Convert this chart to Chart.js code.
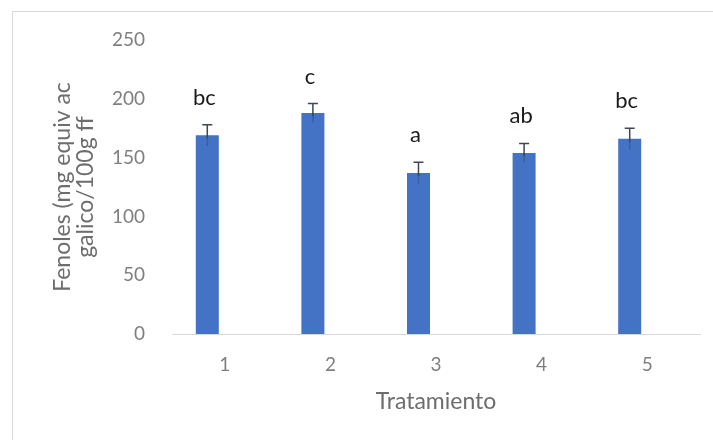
<!DOCTYPE html>
<html>
<head>
<meta charset="utf-8">
<script src="https://cdn.jsdelivr.net/npm/chart.js@4"></script>
<style>
  body { margin: 0; background: #fff; }
  #wrap { position: relative; width: 713px; height: 440px; overflow: hidden; }
  #frame { position: absolute; left: 12px; top: 11px; width: 720px; height: 450px; border: 1px solid #d9d9d9; }
  canvas { position: absolute; left: 0; top: 0; }
</style>
</head>
<body>
<div id="wrap">
  <div id="frame"></div>
  <canvas id="chart" width="713" height="440"></canvas>
</div>
<script>
// data
const tratamientos = ['1', '2', '3', '4', '5'];
const fenoles = [169, 188, 137, 154, 166];
const errores = [9, 8, 9, 8, 9];
const letras = ['bc', 'c', 'a', 'ab', 'bc'];
const yTicks = [0, 50, 100, 150, 200, 250];

const fontFamily = 'Lato, "Open Sans", sans-serif';
const gray = '#7f7f7f';

// error bars + significance letters drawn on top of the bars
const errorBarPlugin = {
    id: 'errorBars',
    afterDatasetsDraw(chart) {
        const ctx = chart.ctx;
        const yScale = chart.scales.y;
        const meta = chart.getDatasetMeta(0);
        ctx.save();
        meta.data.forEach((bar, i) => {
            const x = bar.x;
            const yTop = yScale.getPixelForValue(fenoles[i] + errores[i]);
            const yLow = yScale.getPixelForValue(fenoles[i] - errores[i]);
            // lower half sits inside the bar, barely visible
            ctx.lineWidth = 1.5;
            ctx.strokeStyle = '#3a5f9e';
            ctx.beginPath();
            ctx.moveTo(x, yLow);
            ctx.lineTo(x, bar.y);
            ctx.stroke();
            ctx.strokeStyle = '#3d4654';
            ctx.beginPath();
            ctx.moveTo(x, bar.y + 3);
            ctx.lineTo(x, yTop);
            ctx.moveTo(x - 5, yTop);
            ctx.lineTo(x + 5, yTop);
            ctx.stroke();

            ctx.fillStyle = '#1a1a1a';
            ctx.font = '22px ' + fontFamily;
            ctx.textAlign = 'center';
            ctx.textBaseline = 'alphabetic';
            ctx.fillText(letras[i], x - 3, yTop - 20);
        });
        ctx.restore();
    }
};

const ctx = document.getElementById('chart').getContext('2d');
const chart = new Chart(ctx, {
    type: 'bar',
    data: {
        labels: tratamientos,
        datasets: [{
            label: 'Fenoles',
            data: fenoles,
            backgroundColor: '#4472c4',
            categoryPercentage: 0.663,
            barPercentage: 0.657
        }, {
            // empty second series, keeps the bars left of the tick like the original
            label: '',
            data: [],
            backgroundColor: '#ed7d31',
            categoryPercentage: 0.663,
            barPercentage: 0.657
        }]
    },
    options: {
        responsive: false,
        animation: false,
        layout: { padding: { top: 40, right: 13, left: 0, bottom: 0 } },
        plugins: {
            legend: { display: false },
            tooltip: { enabled: false }
        },
        scales: {
            x: {
                grid: { display: false, drawTicks: false },
                border: { display: true, color: '#d9d9d9', width: 1 },
                ticks: { color: gray, font: { family: fontFamily, size: 19 }, padding: 19 },
                title: {
                    display: true,
                    text: 'Tratamiento',
                    color: '#6d6d6d',
                    font: { family: fontFamily, size: 23 },
                    padding: { top: 0, bottom: 25 }
                },
                afterFit: (scale) => { scale.height = 106; }
            },
            y: {
                min: 0,
                max: 250,
                grid: { display: false, drawTicks: false },
                border: { display: false },
                afterBuildTicks: (scale) => { scale.ticks = yTicks.map(v => ({ value: v })); },
                ticks: { color: gray, font: { family: fontFamily, size: 19 }, padding: 27 },
                title: {
                    display: true,
                    text: ['Fenoles (mg equiv ac', 'galico/100g ff'],
                    color: '#6d6d6d',
                    font: { family: fontFamily, size: 23, lineHeight: 1.0 },
                    padding: { top: 51, bottom: 0 }
                },
                afterFit: (scale) => { scale.width = 172; }
            }
        }
    },
    plugins: [errorBarPlugin]
});
</script>
</body>
</html>
